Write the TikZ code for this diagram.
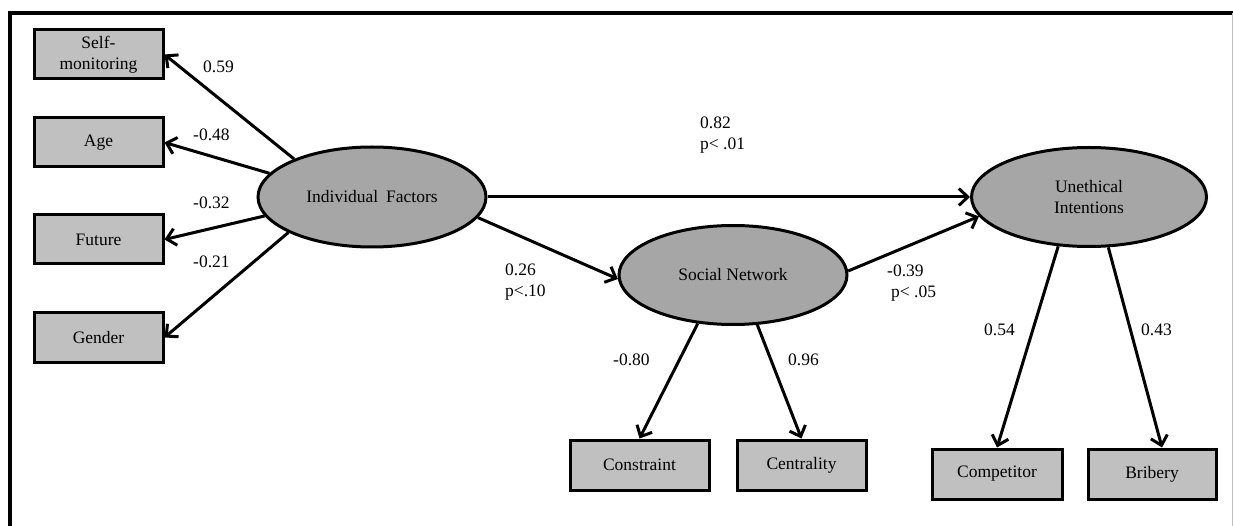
\documentclass[tikz,border=0pt]{standalone}
\usepackage{fontspec}
\setmainfont{Liberation Serif}
\usetikzlibrary{arrows.meta,shapes.geometric}
\definecolor{boxfill}{HTML}{C0C0C0}
\definecolor{ellfill}{HTML}{A6A6A6}
\begin{document}
\begin{tikzpicture}[x=1pt,y=-1pt,
  every node/.style={font=\fontsize{17.5}{21}\selectfont},
  obs/.style={draw,line width=3pt,fill=boxfill,minimum width=129pt,minimum height=49pt,inner sep=0pt,align=center},
  lat/.style={draw,ellipse,line width=3pt,fill=ellfill,inner sep=0pt,align=center},
  path/.style={line width=3pt,-{Straight Barb[length=9pt,width=17pt,line width=3pt]}},
  lbl/.style={inner sep=0pt,anchor=west,align=left}]
\useasboundingbox (0,0) rectangle (1233,526);
\draw[line width=3.5pt] (10,526) -- (10,13) -- (1233,13);
\draw[black!25,line width=1pt] (1232,13) -- (1232,526);

% observed indicators
\node[obs] (SM) at (98.5,54.5) {Self-\\monitoring};
\node[obs] (AG) at (98.5,142.5) {Age};
\node[obs] (FU) at (98.5,239.5) {Future};
\node[obs] (GE) at (98.5,337.5) {Gender};
\node[obs,minimum width=139pt,minimum height=50pt] (CO) at (639.5,465) {Constraint};
\node[obs,minimum width=129pt,minimum height=50pt] (CE) at (801.5,465) {Centrality};
\node[obs,minimum width=130pt,minimum height=50pt] (CP) at (997,474) {Competitor};
\node[obs,minimum width=128pt,minimum height=50pt] (BR) at (1152,474) {Bribery};

% latent variables
\node[lat,minimum width=228pt,minimum height=100pt] (IF) at (372,197) {Individual\hspace{0.45em}Factors};
\node[lat,minimum width=228pt,minimum height=99pt] (SN) at (733,275) {Social Network};
\node[lat,minimum width=235pt,minimum height=99pt] (UI) at (1089,197) {Unethical\\Intentions};

% paths
\draw[path] (IF.154) -- (SM.east);
\draw[path] (IF.167) -- (AG.east);
\draw[path] (IF.190) -- (FU.east);
\draw[path] (IF.203) -- (GE.east);
\draw[path] (IF.east) -- (UI.west);
\draw[path] (IF.349) -- (SN.182);
\draw[path] (SN.2) -- (UI.190);
\draw[path] (SN.234) -- (CO.north);
\draw[path] (SN.296) -- (CE.north);
\draw[path] (UI.238) -- (CP.north);
\draw[path] (UI.291) -- ([xshift=10pt]BR.north);

% labels
\node[lbl] (l1) at (203,67) {0.59};
\node[lbl] (l2) at (193,135) {-0.48};
\node[lbl] (l3) at (193,203) {-0.32};
\node[lbl] (l4) at (193,262) {-0.21};
\node[lbl] (l5) at (700,135.5) {0.82\\p< .01};
\node[lbl] (l6) at (505,282) {0.26\\p<.10};
\node[lbl] (l7) at (887,283) {-0.39\\\hspace{4pt}p< .05};
\node[lbl] (l8) at (613,360) {-0.80};
\node[lbl] (l9) at (788,360) {0.96};
\node[lbl] (l10) at (984,330) {0.54};
\node[lbl] (l11) at (1141,330) {0.43};
\end{tikzpicture}
\end{document}
